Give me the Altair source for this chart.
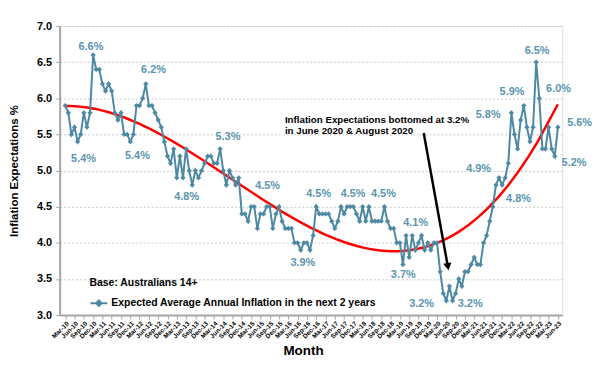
import altair as alt
import pandas as pd

# ---------------- data ----------------
months = pd.date_range("2010-03-01", "2023-06-01", freq="MS").strftime("%b-%y").tolist()

values = [
    5.9, 5.8, 5.5, 5.6, 5.4, 5.5, 5.8, 5.6, 5.8, 6.6,            # Mar-10 .. Dec-10
    6.4, 6.4, 6.2, 6.1, 6.2, 6.1, 5.8, 5.7, 5.8, 5.5, 5.5, 5.4,  # 2011
    5.5, 5.9, 5.9, 6.0, 6.2, 5.9, 5.9, 5.8, 5.7, 5.6, 5.4, 5.2,  # 2012
    5.1, 5.3, 4.9, 5.2, 4.9, 5.3, 5.0, 4.8, 5.0, 4.9, 5.0, 5.1,  # 2013
    5.2, 5.2, 5.1, 5.1, 5.3, 5.0, 4.8, 5.0, 4.9, 4.8, 4.9, 4.4,  # 2014
    4.4, 4.3, 4.5, 4.5, 4.2, 4.4, 4.4, 4.5, 4.5, 4.2, 4.4, 4.5,  # 2015
    4.3, 4.2, 4.2, 4.2, 4.0, 4.0, 3.9, 4.0, 4.0, 3.9, 4.1, 4.5,  # 2016
    4.4, 4.4, 4.4, 4.4, 4.3, 4.2, 4.3, 4.5, 4.4, 4.5, 4.5, 4.5,  # 2017
    4.4, 4.3, 4.5, 4.3, 4.5, 4.3, 4.3, 4.3, 4.3, 4.5, 4.3, 4.2,  # 2018
    4.2, 4.0, 4.0, 3.7, 4.1, 3.8, 4.1, 3.9, 4.0, 4.1, 3.9, 4.0,  # 2019
    3.9, 4.0, 4.0, 3.6, 3.3, 3.2, 3.4, 3.2, 3.3, 3.5, 3.4, 3.6,  # 2020
    3.6, 3.7, 3.8, 3.7, 3.7, 4.0, 4.1, 4.3, 4.5, 4.8, 4.9, 4.8,  # 2021
    4.9, 5.1, 5.8, 5.5, 5.3, 5.7, 5.9, 5.6, 5.4, 5.6, 6.5, 6.0,  # 2022
    5.3, 5.3, 5.6, 5.3, 5.2, 5.6,                                # Jan-23 .. Jun-23
]
month_index = list(range(len(months)))
series_name = "Expected Average Annual Inflation in the next 2 years"

# data labels: text, position (month index), value
label_text = ["6.6%", "5.4%", "6.2%", "5.4%", "4.8%", "5.3%", "4.5%", "3.9%",
              "4.5%", "4.5%", "4.5%", "4.1%", "3.7%", "3.2%", "3.2%", "4.8%",
              "4.9%", "5.8%", "5.9%", "6.5%", "6.0%", "5.6%", "5.2%"]
label_month = [8.3, 5.9, 28.5, 23.3, 39.2, 52.5, 65.3, 76.7,
               81.8, 92.9, 102.7, 113.1, 109.1, 115.0, 130.7, 146.3,
               133.4, 136.5, 144.2, 152.3, 159.2, 166.0, 164.2]
label_value = [6.71, 5.16, 6.39, 5.20, 4.63, 5.47, 4.78, 3.72,
               4.68, 4.68, 4.68, 4.28, 3.55, 3.16, 3.16, 4.60,
               5.02, 5.77, 6.09, 6.66, 6.13, 5.66, 5.10]

note_lines = ["Inflation Expectations bottomed at 3.2%", "in June 2020 & August 2020"]
note_month = [70.9]
note_value = [5.775]
arrow_month = [115.7, 123.5]
arrow_value = [5.52, 3.67]

y_ticks = [3.0, 3.5, 4.0, 4.5, 5.0, 5.5, 6.0, 6.5, 7.0]
x_ticks = list(range(0, len(months), 3))

# ---------------- styling ----------------
FONT = "Liberation Sans"
LINE_BLUE = "#4D89A5"
LABEL_BLUE = "#5A95B0"
AXIS_GREY = "#A6A6A6"
GRID_GREY = "#C9C9C9"

df = pd.DataFrame({"m": month_index, "value": values, "month": months,
                   "series": [series_name] * len(months)})
labels_df = pd.DataFrame({"m": label_month, "value": label_value, "label": label_text})
note_df = pd.DataFrame({"m": note_month, "value": note_value, "note": [note_lines]})
arrow_df = pd.DataFrame({"m": [arrow_month[0]], "value": [arrow_value[0]],
                         "m2": [arrow_month[1]], "v2": [arrow_value[1]]})
head_df = pd.DataFrame({"m": [arrow_month[1]], "value": [arrow_value[1]]})

X = alt.X(
    "m:Q",
    scale=alt.Scale(domain=[-1.8, 160.4], nice=False, zero=False),
    axis=alt.Axis(
        values=x_ticks,
        labelExpr="timeFormat(datetime(2010, 2 + datum.value, 1), '%b-%y')",
        labelAngle=-45, labelFont=FONT, labelFontSize=6.5, labelFontWeight="bold",
        labelColor="#000000", labelOverlap=False, labelPadding=1, labelFlush=False,
        tickSize=4, tickColor=AXIS_GREY, domainColor=AXIS_GREY, domainWidth=2,
        grid=False, title="Month", titleFont=FONT, titleFontSize=13.5,
        titleFontWeight="bold", titleColor="#000000", titleY=43, titleX=245,
        titleBaseline="bottom",
    ),
)
Y = alt.Y(
    "value:Q",
    scale=alt.Scale(domain=[3, 7], nice=False, zero=False),
    axis=alt.Axis(
        values=y_ticks, format=".1f", labelFont=FONT, labelFontSize=11,
        labelFontWeight="bold", labelColor="#000000", labelPadding=4,
        tickSize=4, tickColor=AXIS_GREY, domainColor=AXIS_GREY, domainWidth=2,
        grid=True, gridColor=GRID_GREY, gridDash=[2, 2], gridWidth=1,
        title="Inflation Expectations %", titleFont=FONT, titleFontSize=11.5,
        titleFontWeight="bold", titleColor="#000000", titleX=-45,
        titleBaseline="middle",
    ),
)

legend_symbol = "M-1,0L1,0M0,-0.32L0.32,0L0,0.32L-0.32,0Z"

line = alt.Chart(df).mark_line(
    strokeWidth=2,
    point=alt.OverlayMarkDef(shape="diamond", size=28, filled=True, color=LINE_BLUE),
).encode(
    x=X, y=Y,
    color=alt.Color(
        "series:N",
        scale=alt.Scale(range=[LINE_BLUE]),
        legend=alt.Legend(
            title="Base: Australians 14+", orient="none", legendX=30, legendY=254,
            titleFont=FONT, titleFontSize=10.5, titleFontWeight="bold",
            titleColor="#000000", titlePadding=5, labelFont=FONT,
            labelFontSize=10.5, labelFontWeight="bold", labelColor="#000000",
            labelOffset=3, symbolType=legend_symbol, symbolSize=289,
            symbolStrokeWidth=2, symbolStrokeColor=LINE_BLUE,
            symbolFillColor=LINE_BLUE, padding=0, labelLimit=400,
        ),
    ),
)

trend = alt.Chart(df).transform_regression(
    "m", "value", method="poly", order=3
).mark_line(color="#FF0000", strokeWidth=2.5).encode(x=X, y=Y)

labels = alt.Chart(labels_df).mark_text(
    font=FONT, fontSize=11, fontWeight="bold", color=LABEL_BLUE,
    align="center", baseline="middle",
).encode(x=X, y=Y, text="label:N")

note = alt.Chart(note_df).mark_text(
    font=FONT, fontSize=9.8, fontWeight="bold", color="#000000",
    align="left", baseline="top", lineHeight=12,
).encode(x=X, y=Y, text="note")

arrow = alt.Chart(arrow_df).mark_rule(color="#000000", strokeWidth=2.5).encode(
    x=X, y=Y, x2="m2:Q", y2="v2:Q"
)
head = alt.Chart(head_df).mark_point(
    shape="triangle-down", size=70, filled=True, color="#000000", opacity=1, angle=350
).encode(x=X, y=Y)

chart = alt.layer(trend, line, labels, note, arrow, head).properties(
    width=506, height=291,
    autosize=alt.AutoSizeParams(type="none"),
    padding={"left": 52, "top": 17, "right": 32, "bottom": 41},
).configure_view(stroke=None).configure(background="white")

chart.save("out.html", embed_options={"renderer": "svg", "actions": False})
